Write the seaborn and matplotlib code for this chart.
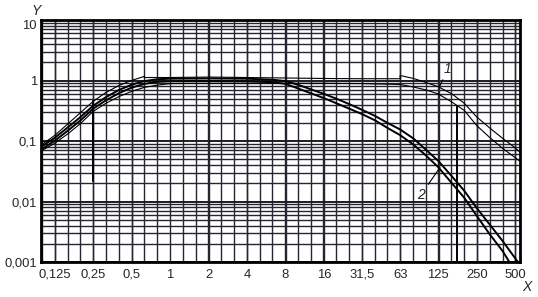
import numpy as np
import pandas as pd
import matplotlib
matplotlib.use("Agg")
import matplotlib.pyplot as plt
from matplotlib.ticker import FixedLocator, FixedFormatter, NullFormatter
import seaborn as sns

# ---------------- data ----------------
x_ticks = [0.125, 0.25, 0.5, 1, 2, 4, 8, 16, 31.5, 63, 125, 250, 500]
x_tick_labels = ["0,125", "0,25", "0,5", "1", "2", "4", "8", "16", "31,5", "63", "125", "250", "500"]
y_ticks = [0.001, 0.01, 0.1, 1, 10]
y_tick_labels = ["0,001", "0,01", "0,1", "1", "10"]

# band 1 (thin lines)
band1_upper_f = [0.1, 0.125, 0.16, 0.2, 0.25, 0.315, 0.4, 0.5, 0.63, 0.63, 1, 2, 4, 8, 16, 31.5, 63, 63,
                 80, 100, 125, 160, 200, 250, 315, 400, 500, 545]
band1_upper_v = [0.088, 0.123, 0.194, 0.296, 0.45, 0.633, 0.83, 1.0, 1.17, 1.12, 1.12, 1.14, 1.12, 1.1, 1.08,
                 1.07, 1.07, 1.21, 1.08, 0.93, 0.79, 0.6, 0.42, 0.25, 0.165, 0.11, 0.077, 0.065]
band1_lower_f = [0.1, 0.125, 0.16, 0.2, 0.25, 0.315, 0.4, 0.5, 0.63, 0.8, 1, 2, 4, 8, 16, 31.5, 63,
                 80, 100, 125, 160, 200, 250, 315, 400, 500, 545]
band1_lower_v = [0.07, 0.091, 0.133, 0.195, 0.307, 0.42, 0.544, 0.66, 0.77, 0.84, 0.89, 0.9, 0.9, 0.9, 0.9,
                 0.89, 0.86, 0.78, 0.7, 0.6, 0.44, 0.32, 0.18, 0.115, 0.075, 0.053, 0.046]

# band 2 (thick lines)
band2_upper_f = [0.1, 0.125, 0.16, 0.2, 0.25, 0.315, 0.4, 0.5, 0.63, 0.8, 1, 2, 4, 6.3, 8, 10, 12.5, 16, 20,
                 25, 31.5, 40, 50, 63, 80, 100, 125, 160, 200, 250, 315, 400, 500, 545]
band2_upper_v = [0.082, 0.112, 0.17, 0.25, 0.38, 0.53, 0.7, 0.85, 0.98, 1.05, 1.07, 1.08, 1.07, 1.03, 0.98,
                 0.85, 0.72, 0.6, 0.5, 0.41, 0.33, 0.26, 0.2, 0.155, 0.11, 0.072, 0.047, 0.026, 0.015,
                 0.0078, 0.0042, 0.0022, 0.00115, 0.0009]
band2_lower_f = [0.1, 0.125, 0.16, 0.2, 0.25, 0.315, 0.4, 0.5, 0.63, 0.8, 1, 2, 4, 6.3, 8, 10, 12.5, 16, 20,
                 25, 31.5, 40, 50, 63, 80, 100, 125, 160, 200, 250, 315, 400, 450]
band2_lower_v = [0.074, 0.1, 0.15, 0.22, 0.34, 0.47, 0.62, 0.76, 0.88, 0.95, 0.97, 0.98, 0.97, 0.94, 0.88,
                 0.74, 0.62, 0.51, 0.42, 0.345, 0.28, 0.22, 0.165, 0.125, 0.087, 0.058, 0.037, 0.02,
                 0.0115, 0.0058, 0.0029, 0.0015, 0.001]

# vertical limit segments
limit_low_f = [0.25, 0.25]
limit_low_v = [0.45, 0.022]
limit_high_f = [175, 175]
limit_high_v = [0.38, 0.001]

# ---------------- figure ----------------
sns.set_style("white")
plt.rcParams["font.family"] = ["Liberation Sans", "DejaVu Sans"]

fig = plt.figure(figsize=(5.38, 2.97), dpi=100)
ax = fig.add_axes([41 / 538, 1 - 262 / 297, (520 - 41) / 538, (262 - 20) / 297])
ax.set_xscale("log")
ax.set_yscale("log")
ax.set_xlim(0.098, 545)
ax.set_ylim(0.001, 10)

# grid: third-octave verticals, log minor horizontals
third_oct = 10 ** (np.arange(-10, 28) / 10)
y_minor = [m * 10.0 ** e for e in range(-3, 1) for m in range(2, 10)]
ax.xaxis.set_major_locator(FixedLocator(x_ticks))
ax.xaxis.set_major_formatter(FixedFormatter(x_tick_labels))
ax.xaxis.set_minor_locator(FixedLocator(third_oct))
ax.xaxis.set_minor_formatter(NullFormatter())
ax.yaxis.set_major_locator(FixedLocator(y_ticks))
ax.yaxis.set_major_formatter(FixedFormatter(y_tick_labels))
ax.yaxis.set_minor_locator(FixedLocator(y_minor))
ax.yaxis.set_minor_formatter(NullFormatter())
ax.grid(True, which="minor", color="#262630", lw=1.0)
ax.grid(True, which="major", axis="y", color="#1c1c24", lw=1.4)
ax.grid(True, which="major", axis="x", color="#262630", lw=1.0)
ax.set_axisbelow(True)

ax.tick_params(which="both", length=0)
ax.tick_params(axis="x", pad=5, labelsize=9.4)
ax.tick_params(axis="y", pad=3, labelsize=9.4)
for lab in ax.get_yticklabels():
    if lab.get_text() == "10":
        lab.set_verticalalignment("top")

for s in ax.spines.values():
    s.set_color("black")
    s.set_linewidth(2)

def draw(f, v, lw):
    df = pd.DataFrame({"f": f, "v": v})
    sns.lineplot(data=df, x="f", y="v", ax=ax, sort=False, estimator=None,
                 color="black", lw=lw, zorder=5)

draw(band1_upper_f, band1_upper_v, 0.8)
draw(band1_lower_f, band1_lower_v, 0.8)
draw(band2_upper_f, band2_upper_v, 1.4)
draw(band2_lower_f, band2_lower_v, 1.4)
draw(limit_low_f, limit_low_v, 1.4)
draw(limit_high_f, limit_high_v, 1.4)

ax.set_xlabel("")
ax.set_ylabel("")

ax.annotate("1", xy=(127, 0.77), xytext=(149, 1.52), fontstyle="italic", fontsize=10,
            ha="center", va="center",
            arrowprops=dict(arrowstyle="-", color="black", lw=0.8, shrinkA=0, shrinkB=0))
ax.annotate("2", xy=(129, 0.0365), xytext=(92, 0.013), fontstyle="italic", fontsize=10,
            ha="center", va="center",
            arrowprops=dict(arrowstyle="-", color="black", lw=0.8, shrinkA=0, shrinkB=0))

fig.text(36 / 538, 1 - 11 / 297, "Y", fontstyle="italic", fontsize=10, ha="center", va="center")
fig.text(527 / 538, 1 - 287 / 297, "X", fontstyle="italic", fontsize=10, ha="center", va="center")

fig.savefig("out.png", dpi=100, facecolor="white")
